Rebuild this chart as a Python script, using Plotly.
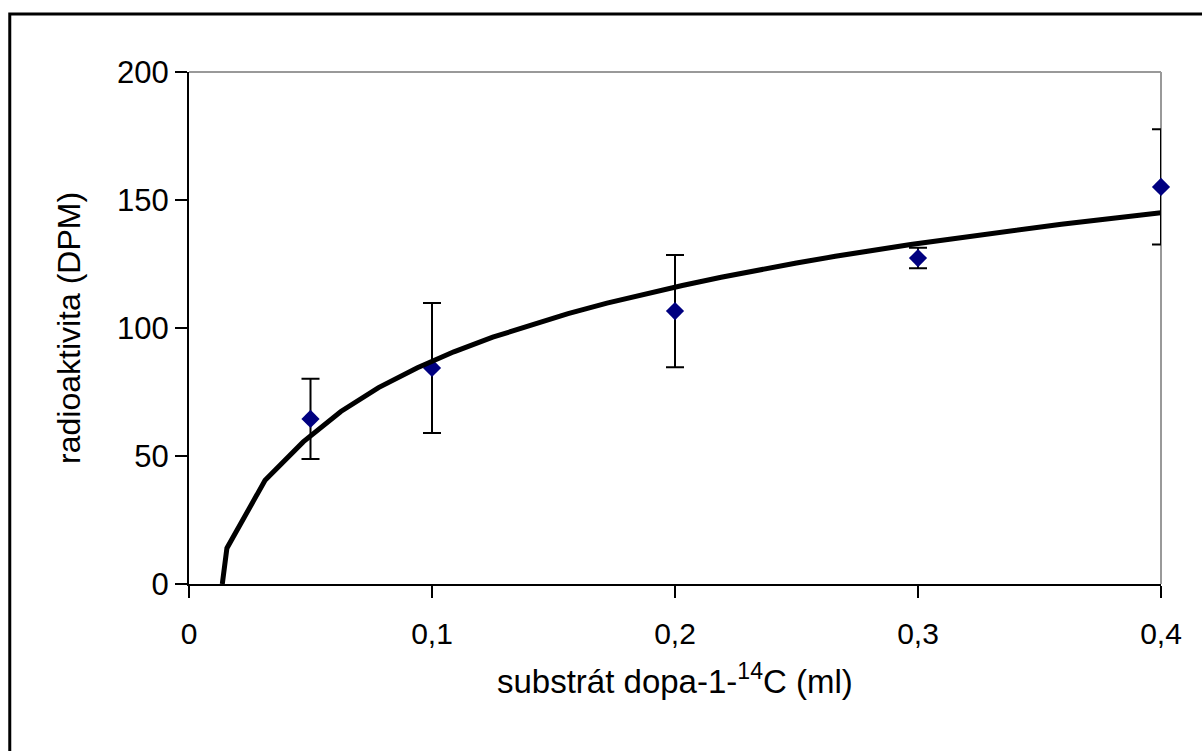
import plotly.graph_objects as go

# ---- data ----
x_points = [0.05, 0.1, 0.2, 0.3, 0.4]
y_points = [64.5, 84.4, 106.6, 127.3, 155.1]
y_err = [15.7, 25.4, 21.9, 4.0, 22.5]

trend_x = [0.0137, 0.0156, 0.0313, 0.047, 0.0625, 0.078, 0.094, 0.109, 0.125, 0.141,
           0.156, 0.172, 0.188, 0.203, 0.219, 0.234, 0.25, 0.266, 0.281, 0.297,
           0.313, 0.328, 0.344, 0.359, 0.375, 0.391, 0.4]
trend_y = [0, 14.0, 40.5, 55.5, 67.4, 76.7, 84.5, 90.7, 96.4, 101.4,
           105.6, 109.7, 113.4, 116.6, 119.8, 122.6, 125.4, 128.0, 130.3, 132.6,
           134.7, 136.7, 138.7, 140.5, 142.3, 144.0, 145.0]

x_tickvals = [0, 0.1, 0.2, 0.3, 0.4]
x_ticktext = ["0", "0,1", "0,2", "0,3", "0,4"]
y_tickvals = [0, 50, 100, 150, 200]
y_ticktext = ["0", "50", "100", "150", "200"]

x_title = "substrát dopa-1-<sup>14</sup>C (ml)"
y_title = "radioaktivita (DPM)"

FONT = "Liberation Sans, Arial, sans-serif"

fig = go.Figure()

fig.add_trace(go.Scatter(
    x=x_points, y=y_points, mode="markers",
    marker=dict(symbol="diamond", size=14, color="#000080"),
    error_y=dict(type="data", array=y_err, visible=True, color="black",
                 thickness=2, width=9),
    cliponaxis=False, showlegend=False,
))

fig.add_trace(go.Scatter(
    x=trend_x, y=trend_y, mode="lines",
    line=dict(color="black", width=5),
    cliponaxis=False, showlegend=False,
))

fig.update_layout(
    width=1202, height=751,
    margin=dict(l=189, r=41, t=72, b=167, pad=0),
    paper_bgcolor="white", plot_bgcolor="white",
    font=dict(family=FONT, size=30, color="black"),
    showlegend=False,
    xaxis=dict(range=[0, 0.4], tickvals=x_tickvals, ticktext=x_ticktext,
               showgrid=False, zeroline=False, showline=True, linecolor="black",
               linewidth=2, ticks="outside", ticklen=12, tickwidth=2,
               tickcolor="black", automargin=False, ticklabelstandoff=10,
               tickfont=dict(family=FONT, size=30, color="black")),
    yaxis=dict(range=[0, 200], tickvals=y_tickvals, ticktext=y_ticktext,
               showgrid=False, zeroline=False, showline=True, linecolor="black",
               linewidth=2, ticks="outside", ticklen=12, tickwidth=2,
               tickcolor="black", automargin=False,
               tickfont=dict(family=FONT, size=31, color="black")),
    shapes=[
        dict(type="line", xref="paper", yref="paper", x0=0, x1=1, y0=1, y1=1,
             line=dict(color="#999999", width=2), layer="below"),
        dict(type="line", xref="paper", yref="paper", x0=1, x1=1, y0=0, y1=1,
             line=dict(color="#999999", width=2), layer="below"),
        dict(type="rect", xref="paper", yref="paper",
             x0=-0.1844, x1=1.06, y0=-0.36, y1=1.1133,
             line=dict(color="black", width=3), fillcolor="rgba(0,0,0,0)",
             layer="above"),
    ],
    annotations=[
        dict(text=x_title, xref="paper", yref="paper", x=0.5, y=-0.185,
             xanchor="center", yanchor="middle", showarrow=False,
             font=dict(family=FONT, size=33, color="black")),
        dict(text=y_title, xref="paper", yref="paper", x=-0.1235, y=0.5,
             xanchor="center", yanchor="middle", showarrow=False, textangle=-90,
             font=dict(family=FONT, size=32, color="black")),
    ],
)

fig.write_html("out.html")
